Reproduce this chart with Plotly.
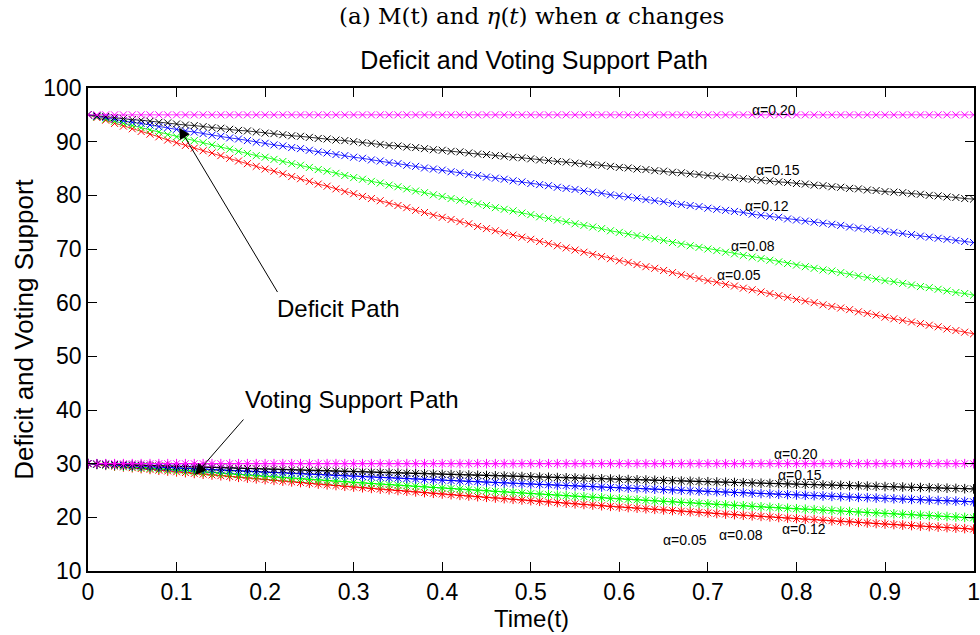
import plotly.graph_objects as go

# Time grid (t from 0 to 1, step 0.01)
time_t = [i / 100 for i in range(101)]

alphas = ["0.05", "0.08", "0.12", "0.15", "0.20"]
colors = ["#FF0000", "#00FF00", "#0000FF", "#000000", "#FF00FF"]

# Deficit path M(t) for each alpha
deficit_a05 = [
    95.0, 94.5, 94.0, 93.4, 92.9, 92.4, 91.9, 91.4, 90.9, 90.3,
    89.8, 89.3, 88.8, 88.3, 87.9, 87.4, 86.9, 86.4, 85.9, 85.4,
    84.9, 84.5, 84.0, 83.5, 83.1, 82.6, 82.1, 81.7, 81.2, 80.7,
    80.3, 79.8, 79.4, 79.0, 78.5, 78.1, 77.7, 77.2, 76.8, 76.3,
    75.9, 75.5, 75.1, 74.7, 74.2, 73.8, 73.4, 73.0, 72.6, 72.2,
    71.8, 71.4, 71.0, 70.6, 70.2, 69.8, 69.4, 69.0, 68.6, 68.2,
    67.8, 67.5, 67.1, 66.7, 66.4, 66.0, 65.6, 65.2, 64.9, 64.5,
    64.1, 63.8, 63.4, 63.1, 62.7, 62.4, 62.0, 61.7, 61.3, 61.0,
    60.6, 60.3, 60.0, 59.6, 59.3, 59.0, 58.7, 58.3, 58.0, 57.7,
    57.3, 57.0, 56.7, 56.4, 56.1, 55.8, 55.5, 55.1, 54.8, 54.5,
    54.2]
deficit_a08 = [
    95.0, 94.6, 94.2, 93.8, 93.4, 93.0, 92.6, 92.2, 91.8, 91.3,
    90.9, 90.6, 90.2, 89.8, 89.4, 89.0, 88.6, 88.2, 87.8, 87.4,
    87.1, 86.7, 86.3, 85.9, 85.6, 85.2, 84.8, 84.5, 84.1, 83.7,
    83.3, 83.0, 82.6, 82.3, 81.9, 81.6, 81.2, 80.8, 80.5, 80.1,
    79.8, 79.4, 79.1, 78.8, 78.4, 78.1, 77.7, 77.4, 77.1, 76.7,
    76.4, 76.0, 75.7, 75.4, 75.1, 74.7, 74.4, 74.1, 73.8, 73.4,
    73.1, 72.8, 72.5, 72.2, 71.9, 71.6, 71.2, 70.9, 70.6, 70.3,
    70.0, 69.7, 69.4, 69.1, 68.8, 68.5, 68.2, 67.9, 67.6, 67.3,
    67.0, 66.7, 66.4, 66.1, 65.9, 65.6, 65.3, 65.0, 64.7, 64.4,
    64.1, 63.9, 63.6, 63.3, 63.0, 62.8, 62.5, 62.2, 61.9, 61.7,
    61.4]
deficit_a12 = [
    95.0, 94.7, 94.5, 94.2, 93.9, 93.6, 93.4, 93.1, 92.8, 92.6,
    92.3, 92.0, 91.8, 91.5, 91.2, 91.0, 90.7, 90.5, 90.2, 89.9,
    89.7, 89.4, 89.2, 88.9, 88.7, 88.4, 88.1, 87.9, 87.6, 87.4,
    87.1, 86.9, 86.6, 86.4, 86.1, 85.9, 85.6, 85.4, 85.1, 84.9,
    84.7, 84.4, 84.2, 83.9, 83.7, 83.4, 83.2, 83.0, 82.7, 82.5,
    82.2, 82.0, 81.8, 81.5, 81.3, 81.1, 80.8, 80.6, 80.4, 80.1,
    79.9, 79.7, 79.5, 79.2, 79.0, 78.8, 78.5, 78.3, 78.1, 77.9,
    77.6, 77.4, 77.2, 77.0, 76.8, 76.5, 76.3, 76.1, 75.9, 75.6,
    75.4, 75.2, 75.0, 74.8, 74.6, 74.4, 74.1, 73.9, 73.7, 73.5,
    73.3, 73.1, 72.9, 72.7, 72.4, 72.2, 72.0, 71.8, 71.6, 71.4,
    71.2]
deficit_a15 = [
    95.0, 94.8, 94.7, 94.5, 94.3, 94.1, 94.0, 93.8, 93.6, 93.5,
    93.3, 93.1, 93.0, 92.8, 92.6, 92.5, 92.3, 92.1, 92.0, 91.8,
    91.6, 91.5, 91.3, 91.1, 91.0, 90.8, 90.6, 90.5, 90.3, 90.2,
    90.0, 89.8, 89.7, 89.5, 89.3, 89.2, 89.0, 88.9, 88.7, 88.5,
    88.4, 88.2, 88.1, 87.9, 87.7, 87.6, 87.4, 87.3, 87.1, 87.0,
    86.8, 86.6, 86.5, 86.3, 86.2, 86.0, 85.9, 85.7, 85.6, 85.4,
    85.2, 85.1, 84.9, 84.8, 84.6, 84.5, 84.3, 84.2, 84.0, 83.9,
    83.7, 83.6, 83.4, 83.3, 83.1, 83.0, 82.8, 82.7, 82.5, 82.4,
    82.2, 82.1, 81.9, 81.8, 81.6, 81.5, 81.3, 81.2, 81.0, 80.9,
    80.7, 80.6, 80.5, 80.3, 80.2, 80.0, 79.9, 79.7, 79.6, 79.4,
    79.3]
deficit_a20 = [95.0] * 101

# Voting support path eta(t) for each alpha
voting_a05 = [
    30.00, 29.85, 29.69, 29.54, 29.39, 29.24, 29.08, 28.93, 28.78, 28.63,
    28.47, 28.33, 28.18, 28.04, 27.89, 27.75, 27.60, 27.46, 27.31, 27.17,
    27.03, 26.89, 26.75, 26.61, 26.48, 26.34, 26.20, 26.06, 25.93, 25.79,
    25.65, 25.52, 25.39, 25.26, 25.13, 25.00, 24.87, 24.74, 24.61, 24.48,
    24.35, 24.22, 24.10, 23.98, 23.85, 23.73, 23.60, 23.48, 23.36, 23.23,
    23.11, 22.99, 22.87, 22.76, 22.64, 22.52, 22.40, 22.29, 22.17, 22.05,
    21.93, 21.82, 21.71, 21.60, 21.49, 21.38, 21.26, 21.15, 21.04, 20.93,
    20.82, 20.71, 20.61, 20.50, 20.39, 20.29, 20.18, 20.08, 19.97, 19.86,
    19.76, 19.66, 19.56, 19.46, 19.36, 19.26, 19.16, 19.06, 18.95, 18.85,
    18.75, 18.66, 18.56, 18.47, 18.37, 18.28, 18.18, 18.09, 17.99, 17.90,
    17.80]
voting_a08 = [
    30.00, 29.88, 29.76, 29.64, 29.52, 29.40, 29.28, 29.16, 29.03, 28.91,
    28.79, 28.68, 28.56, 28.45, 28.33, 28.22, 28.10, 27.98, 27.87, 27.75,
    27.64, 27.52, 27.41, 27.30, 27.19, 27.08, 26.97, 26.86, 26.75, 26.64,
    26.52, 26.42, 26.31, 26.20, 26.10, 25.99, 25.88, 25.78, 25.67, 25.56,
    25.46, 25.36, 25.25, 25.15, 25.05, 24.95, 24.84, 24.74, 24.64, 24.54,
    24.43, 24.34, 24.24, 24.14, 24.04, 23.94, 23.84, 23.75, 23.65, 23.55,
    23.45, 23.36, 23.26, 23.17, 23.07, 22.98, 22.89, 22.79, 22.70, 22.60,
    22.51, 22.42, 22.33, 22.24, 22.15, 22.06, 21.96, 21.87, 21.78, 21.69,
    21.60, 21.52, 21.43, 21.34, 21.26, 21.17, 21.08, 20.99, 20.91, 20.82,
    20.73, 20.65, 20.57, 20.48, 20.40, 20.32, 20.23, 20.15, 20.07, 19.98,
    19.90]
voting_a12 = [
    30.00, 29.92, 29.84, 29.76, 29.68, 29.60, 29.52, 29.44, 29.36, 29.28,
    29.20, 29.12, 29.05, 28.97, 28.89, 28.81, 28.73, 28.66, 28.58, 28.50,
    28.42, 28.35, 28.27, 28.20, 28.12, 28.04, 27.97, 27.89, 27.82, 27.74,
    27.67, 27.59, 27.52, 27.44, 27.37, 27.30, 27.22, 27.15, 27.08, 27.00,
    26.93, 26.86, 26.78, 26.71, 26.64, 26.57, 26.50, 26.43, 26.35, 26.28,
    26.21, 26.14, 26.07, 26.00, 25.93, 25.86, 25.79, 25.72, 25.65, 25.58,
    25.51, 25.44, 25.38, 25.31, 25.24, 25.17, 25.10, 25.04, 24.97, 24.90,
    24.83, 24.77, 24.70, 24.63, 24.57, 24.50, 24.44, 24.37, 24.30, 24.24,
    24.17, 24.11, 24.04, 23.98, 23.91, 23.85, 23.78, 23.72, 23.66, 23.59,
    23.53, 23.46, 23.40, 23.34, 23.28, 23.21, 23.15, 23.09, 23.03, 22.96,
    22.90]
voting_a15 = [
    30.00, 29.95, 29.90, 29.85, 29.80, 29.75, 29.70, 29.65, 29.59, 29.54,
    29.49, 29.44, 29.39, 29.34, 29.29, 29.24, 29.20, 29.15, 29.10, 29.05,
    28.99, 28.95, 28.90, 28.85, 28.80, 28.75, 28.70, 28.65, 28.60, 28.55,
    28.51, 28.46, 28.41, 28.36, 28.31, 28.26, 28.22, 28.17, 28.12, 28.07,
    28.02, 27.98, 27.93, 27.88, 27.83, 27.79, 27.74, 27.69, 27.64, 27.60,
    27.55, 27.50, 27.46, 27.41, 27.36, 27.32, 27.27, 27.22, 27.18, 27.13,
    27.08, 27.04, 26.99, 26.95, 26.90, 26.86, 26.81, 26.76, 26.72, 26.67,
    26.63, 26.58, 26.54, 26.49, 26.45, 26.40, 26.36, 26.31, 26.27, 26.22,
    26.18, 26.13, 26.09, 26.04, 26.00, 25.96, 25.91, 25.87, 25.82, 25.78,
    25.73, 25.69, 25.65, 25.60, 25.56, 25.52, 25.47, 25.43, 25.39, 25.34,
    25.30]
voting_a20 = [30.0] * 101

deficit_series = [deficit_a05, deficit_a08, deficit_a12, deficit_a15, deficit_a20]
voting_series = [voting_a05, voting_a08, voting_a12, voting_a15, voting_a20]

x_ticks = [0, 0.1, 0.2, 0.3, 0.4, 0.5, 0.6, 0.7, 0.8, 0.9, 1]
x_tick_labels = ["0", "0.1", "0.2", "0.3", "0.4", "0.5", "0.6", "0.7", "0.8", "0.9", "1"]
y_ticks = [10, 20, 30, 40, 50, 60, 70, 80, 90, 100]

SANS = "Liberation Sans, Arial, Helvetica, sans-serif"

fig = go.Figure()

for a, c, ys in zip(alphas, colors, deficit_series):
    fig.add_trace(go.Scatter(
        x=time_t, y=ys, mode="lines+markers", name="M(t), α=" + a,
        line=dict(color=c, width=0.8),
        marker=dict(symbol="x-thin", size=7, color=c, line=dict(color=c, width=1)),
    ))

for a, c, ys in zip(alphas, colors, voting_series):
    fig.add_trace(go.Scatter(
        x=time_t, y=ys, mode="lines+markers", name="η(t), α=" + a,
        line=dict(color=c, width=0.8),
        marker=dict(symbol="asterisk", size=8, color=c, line=dict(color=c, width=1)),
    ))

# alpha labels next to each curve: (text, t, value)
curve_labels = [
    ("α=0.20", 0.775, 95.9), ("α=0.15", 0.779, 84.7), ("α=0.12", 0.767, 78.1),
    ("α=0.08", 0.751, 70.5), ("α=0.05", 0.735, 65.2),
    ("α=0.20", 0.800, 31.8), ("α=0.15", 0.804, 27.8), ("α=0.12", 0.809, 17.8),
    ("α=0.08", 0.737, 16.65), ("α=0.05", 0.674, 15.7),
]
annotations = []
for txt, tx, ty in curve_labels:
    annotations.append(dict(x=tx, y=ty, xref="x", yref="y", text=txt, showarrow=False,
                            font=dict(family=SANS, size=14, color="#000000")))

# path callouts
annotations += [
    dict(x=0.103, y=92.6, ax=0.215, ay=61.7, xref="x", yref="y", axref="x", ayref="y",
         text="", showarrow=True, arrowhead=2, arrowsize=2.2, arrowwidth=1, arrowcolor="#000000"),
    dict(x=0.283, y=58.9, xref="x", yref="y", text="Deficit Path", showarrow=False,
         font=dict(family=SANS, size=24, color="#000000")),
    dict(x=0.121, y=27.9, ax=0.177, ay=38.5, xref="x", yref="y", axref="x", ayref="y",
         text="", showarrow=True, arrowhead=2, arrowsize=2.2, arrowwidth=1, arrowcolor="#000000"),
    dict(x=0.298, y=41.9, xref="x", yref="y", text="Voting Support Path", showarrow=False,
         font=dict(family=SANS, size=24, color="#000000")),
    # figure caption
    dict(x=0.5, y=1.15, xref="paper", yref="paper", yanchor="middle", xanchor="center",
         text="(a) M(t) and <i>η</i>(<i>t</i>) when <i>α</i> changes", showarrow=False,
         font=dict(family="DejaVu Serif, serif", size=23, color="#000000")),
    # x axis title
    dict(x=0.5, y=-0.099, xref="paper", yref="paper", yanchor="middle", xanchor="center",
         text="Time(t)", showarrow=False,
         font=dict(family=SANS, size=24, color="#000000")),
]

fig.update_layout(
    width=980, height=635,
    margin=dict(l=88, r=0, t=87.5, b=63.5),
    paper_bgcolor="#FFFFFF", plot_bgcolor="#FFFFFF",
    showlegend=False,
    title=dict(text="Deficit and Voting Support Path", x=0.545, xanchor="center",
               y=0.905, yref="container", yanchor="middle",
               font=dict(family=SANS, size=25, color="#000000")),
    annotations=annotations,
    xaxis=dict(range=[0, 1.0005], tickvals=x_ticks, ticktext=x_tick_labels,
               ticks="inside", ticklen=9, tickwidth=1, tickcolor="#000000",
               showline=True, linecolor="#000000", linewidth=1.5, mirror="ticks",
               showgrid=False, zeroline=False, ticklabeloverflow="allow",
               tickfont=dict(family=SANS, size=23, color="#000000")),
    yaxis=dict(range=[10, 100], tickvals=y_ticks,
               ticks="inside", ticklen=9, tickwidth=1, tickcolor="#000000",
               showline=True, linecolor="#000000", linewidth=1.5, mirror="ticks",
               showgrid=False, zeroline=False,
               tickfont=dict(family=SANS, size=23, color="#000000"),
               title=dict(text="Deficit and Voting Support", standoff=2,
                          font=dict(family=SANS, size=26, color="#000000"))),
)

fig.write_html("out.html")
